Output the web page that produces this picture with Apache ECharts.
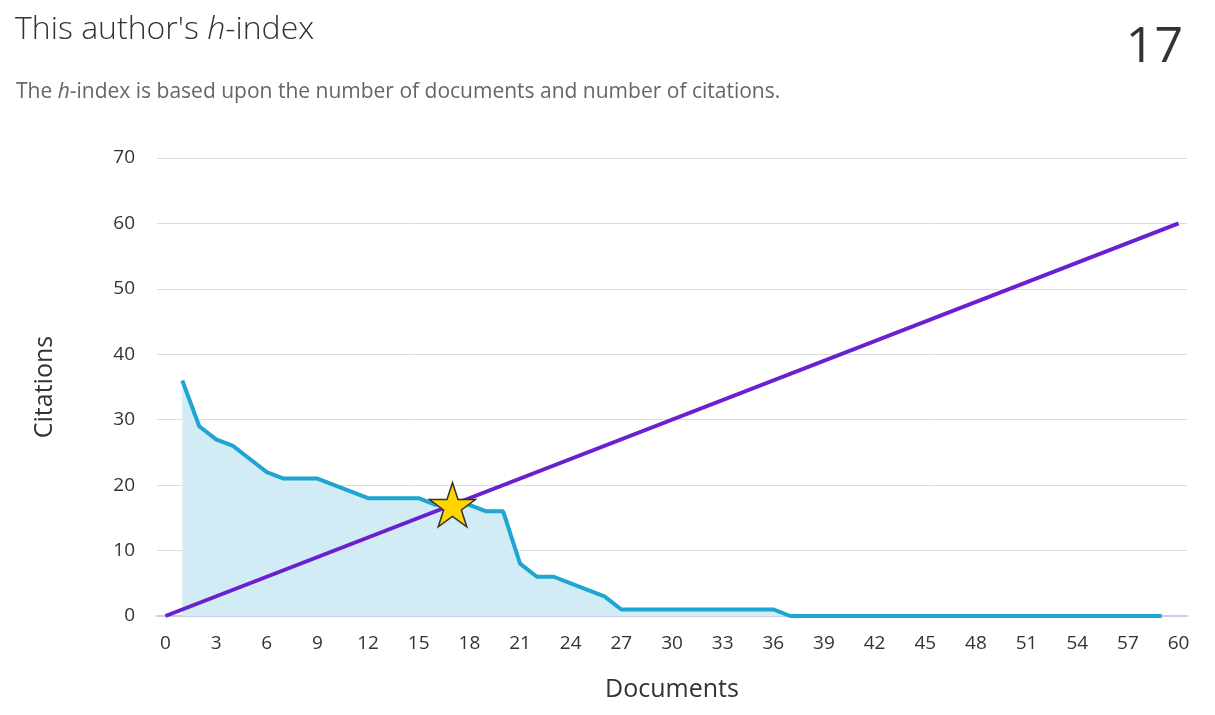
<!DOCTYPE html>
<html>
<head>
<meta charset="utf-8">
<script src="https://cdn.jsdelivr.net/npm/echarts@6/dist/echarts.min.js"></script>
<style>
html,body{margin:0;padding:0;background:#fff;}
#chart{width:1215px;height:715px;}
</style>
</head>
<body>
<div id="chart"></div>
<script>
// ---- data ----
const documents = Array.from({length: 61}, (_, i) => String(i)); // x categories 0..60
// citations of documents ranked 1..59
const citations = [36,29,27,26,24,22,21,21,21,20,19,18,18,18,18,17,17,17,16,16,8,6,6,5,4,3,
  1,1,1,1,1,1,1,1,1,1,
  0,0,0,0,0,0,0,0,0,0,0,0,0,0,0,0,0,0,0,0,0,0,0];
const hLine = [['0', 0], ['60', 60]];
const hIndex = 17;
const yTicks = {min: 0, max: 70, interval: 10};

const citationSeries = [['0','-']].concat(citations.map((v, i) => [String(i + 1), v]));

const FONT = '"Open Sans", "Noto Sans", sans-serif';
const chart = echarts.init(document.getElementById('chart'));
chart.setOption({
  animation: false,
  backgroundColor: '#fff',
  title: [{
    left: 10, top: 9,
    text: "{a|This author's }{i|h}{a|-index}",
    textStyle: {
      rich: {
        a: {fontFamily: FONT, fontSize: 32, color: '#333', fontWeight: 300},
        i: {fontFamily: FONT, fontSize: 32, color: '#333', fontStyle: 'italic', fontWeight: 300}
      }
    }
  }, {
    left: 11, top: 77,
    text: "{a|The }{i|h}{a|-index is based upon the number of documents and number of citations.}",
    textStyle: {
      fontWeight: 'normal',
      rich: {
        a: {fontFamily: FONT, fontSize: 21, color: '#666', fontWeight: 'normal'},
        i: {fontFamily: FONT, fontSize: 21, color: '#666', fontStyle: 'italic', fontWeight: 'normal'}
      }
    }
  }, {
    right: 27, top: 18,
    text: String(hIndex),
    textStyle: {fontFamily: FONT, fontSize: 50, color: '#333', fontWeight: 'normal'}
  }],
  grid: {left: 157, right: 28, top: 158, bottom: 99},
  xAxis: {
    type: 'category',
    data: documents,
    boundaryGap: true,
    name: 'Documents',
    nameLocation: 'middle',
    nameGap: 61,
    nameTextStyle: {fontFamily: FONT, fontSize: 25, color: '#333'},
    axisTick: {show: false},
    axisLine: {lineStyle: {color: '#c9cde3', width: 2}},
    axisLabel: {interval: 2, fontFamily: FONT, fontSize: 19, color: '#333', margin: 18},
    splitLine: {show: false}
  },
  yAxis: {
    type: 'value',
    min: yTicks.min, max: yTicks.max, interval: yTicks.interval,
    name: 'Citations',
    nameLocation: 'middle',
    nameGap: 100,
    nameTextStyle: {fontFamily: FONT, fontSize: 25, color: '#333'},
    axisLine: {show: false},
    axisTick: {show: false},
    axisLabel: {fontFamily: FONT, fontSize: 19, color: '#333', margin: 22},
    splitLine: {lineStyle: {color: '#dcdcdc', width: 1}}
  },
  series: [{
    type: 'line',
    data: citationSeries,
    symbol: 'none',
    lineStyle: {color: '#1ea5d1', width: 4},
    areaStyle: {color: '#d1ecf5', opacity: 1},
    z: 2
  }, {
    type: 'line',
    data: hLine,
    symbol: 'none',
    lineStyle: {color: '#6a20d0', width: 4},
    z: 3
  }, {
    type: 'scatter',
    data: [[String(hIndex), hIndex]],
    symbol: 'path://M50,0 L61.8,35.4 L98.9,35.4 L68.9,57.3 L80.3,92.7 L50,70.8 L19.7,92.7 L31.1,57.3 L1.1,35.4 L38.2,35.4 Z',
    symbolSize: [46, 44],
    itemStyle: {color: '#ffd400', borderColor: '#333', borderWidth: 1.5, opacity: 1},
    z: 5
  }]
});
</script>
</body>
</html>
